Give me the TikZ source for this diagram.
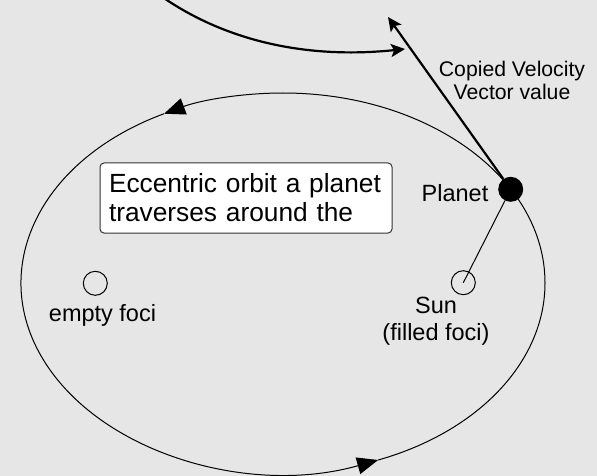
\documentclass[tikz,border=0pt]{standalone}
\usepackage{fontspec}
\setmainfont{Liberation Sans}
\usetikzlibrary{arrows.meta,positioning}
\definecolor{bggray}{RGB}{230,230,230}
\definecolor{boxedge}{RGB}{51,51,51}

\begin{document}
\begin{tikzpicture}[x=1pt, y=-1pt,
    orbit/.style={black, line width=1pt},
    orbitarrow/.style={orbit, -{Triangle[length=21pt, width=17pt]}},
    vecarrow/.style={black, line width=2.2pt, -{Stealth[length=14pt, width=13pt, inset=3pt]}},
    focus/.style={circle, draw=black, line width=1pt, minimum size=24pt, inner sep=0pt},
    lbl/.style={font=\fontsize{23.5}{28}\selectfont, anchor=base}]
        % Background
        \fill[bggray] (0,0) rectangle (597,476);
        \useasboundingbox (0,0) rectangle (597,476);
        
        % ============================================================
        % ORBIT - ellipse around (283,283), drawn in three arcs
        % ============================================================
        \draw[orbitarrow] (283,283) ++(0:262 and 190)
            arc[start angle=0, end angle=-117, x radius=262, y radius=190];
        \draw[orbitarrow] (283,283) ++(-117:262 and 190)
            arc[start angle=-117, end angle=-291.3, x radius=262, y radius=190];
        \draw[orbit] (283,283) ++(68.7:262 and 190)
            arc[start angle=68.7, end angle=0, x radius=262, y radius=190];
        
        % ============================================================
        % FOCI and PLANET
        % ============================================================
        \node[focus] (empty) at (95.3,283.3) {};
        \node[focus] (sun) at (463.3,282.7) {};
        \node[circle, fill=black, minimum size=25pt, inner sep=0pt] (planet) at (510.7,189.3) {};
        
        \draw[orbit] (planet) -- (sun.center);
        
        \node[lbl] (planetlbl) at (455,201.7) {Planet};
        \node[lbl] (sunlbl) at (436,313) {Sun};
        \node[lbl] (filledlbl) at (436,340) {(filled foci)};
        \node[lbl] (emptylbl) at (102.5,321.5) {empty foci};
        
        % ============================================================
        % VELOCITY VECTOR
        % ============================================================
        \coordinate (vtip) at (388,17);
        \coordinate (cstart) at (150,-12);
        \coordinate (ctip) at (405,49);
        
        \draw[vecarrow] (planet) -- (vtip);
        \draw[vecarrow] (cstart) .. controls (215,38) and (300,60) .. (ctip);
        
        \node[font=\fontsize{21.2}{23}\selectfont, align=center] (veclbl) at (512,80.8)
            {Copied Velocity\\Vector value};
        
        % ============================================================
        % CAPTION BOX
        % ============================================================
        \node[draw=boxedge, fill=white, rounded corners=4pt, line width=1pt,
              text width=274pt, inner xsep=9pt, minimum height=70pt, align=left,
              font=\fontsize{26.3}{29}\selectfont] (orbitbox) at (246,198)
            {Eccentric orbit a planet\\traverses around the};
        
\end{tikzpicture}
\end{document}
